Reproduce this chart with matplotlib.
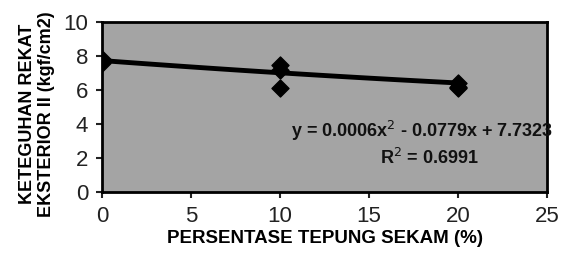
import numpy as np
import matplotlib.pyplot as plt

# data
persen = [0, 0, 0, 10, 10, 10, 20, 20, 20]
keteguhan = [7.8, 7.7, 7.6, 7.5, 7.2, 6.1, 6.4, 6.2, 6.1]
koef = [0.0006, -0.0779, 7.7323]

plt.rcParams['font.family'] = ['Liberation Sans', 'DejaVu Sans']

fig = plt.figure(figsize=(5.7, 2.62), dpi=100)
ax = fig.add_axes([0.179, 0.267, 0.781, 0.649])
ax.set_facecolor('#a4a4a4')

xs = np.linspace(0, 20, 50)
ax.plot(xs, np.polyval(koef, xs), color='black', linewidth=3.5, zorder=2)
ax.scatter(persen, keteguhan, marker='D', s=75, color='black', zorder=3)

ax.set_xlim(0, 25)
ax.set_ylim(0, 10)
ax.set_xticks([0, 5, 10, 15, 20, 25])
ax.set_yticks([0, 2, 4, 6, 8, 10])
ax.tick_params(labelsize=16, length=4, width=1.5, pad=6, colors='#222222')
for s in ax.spines.values():
    s.set_linewidth(2)

ax.text(10.6, 3.6, 'y = 0.0006x$^2$ - 0.0779x + 7.7323', fontsize=13, fontweight='bold',
        va='center', ha='left', clip_on=False, color='#111111')
ax.text(18.4, 2.0, 'R$^2$ = 0.6991', fontsize=13, fontweight='bold', va='center',
        ha='center', color='#111111')

ax.set_xlabel('PERSENTASE TEPUNG SEKAM (%)', fontsize=13.5, fontweight='bold', labelpad=2)
ax.set_ylabel('KETEGUHAN REKAT\nEKSTERIOR II (kgf/cm2)', fontsize=13, fontweight='bold')
ax.yaxis.set_label_coords(-0.105, 0.46)

fig.savefig('out.png', dpi=100)
